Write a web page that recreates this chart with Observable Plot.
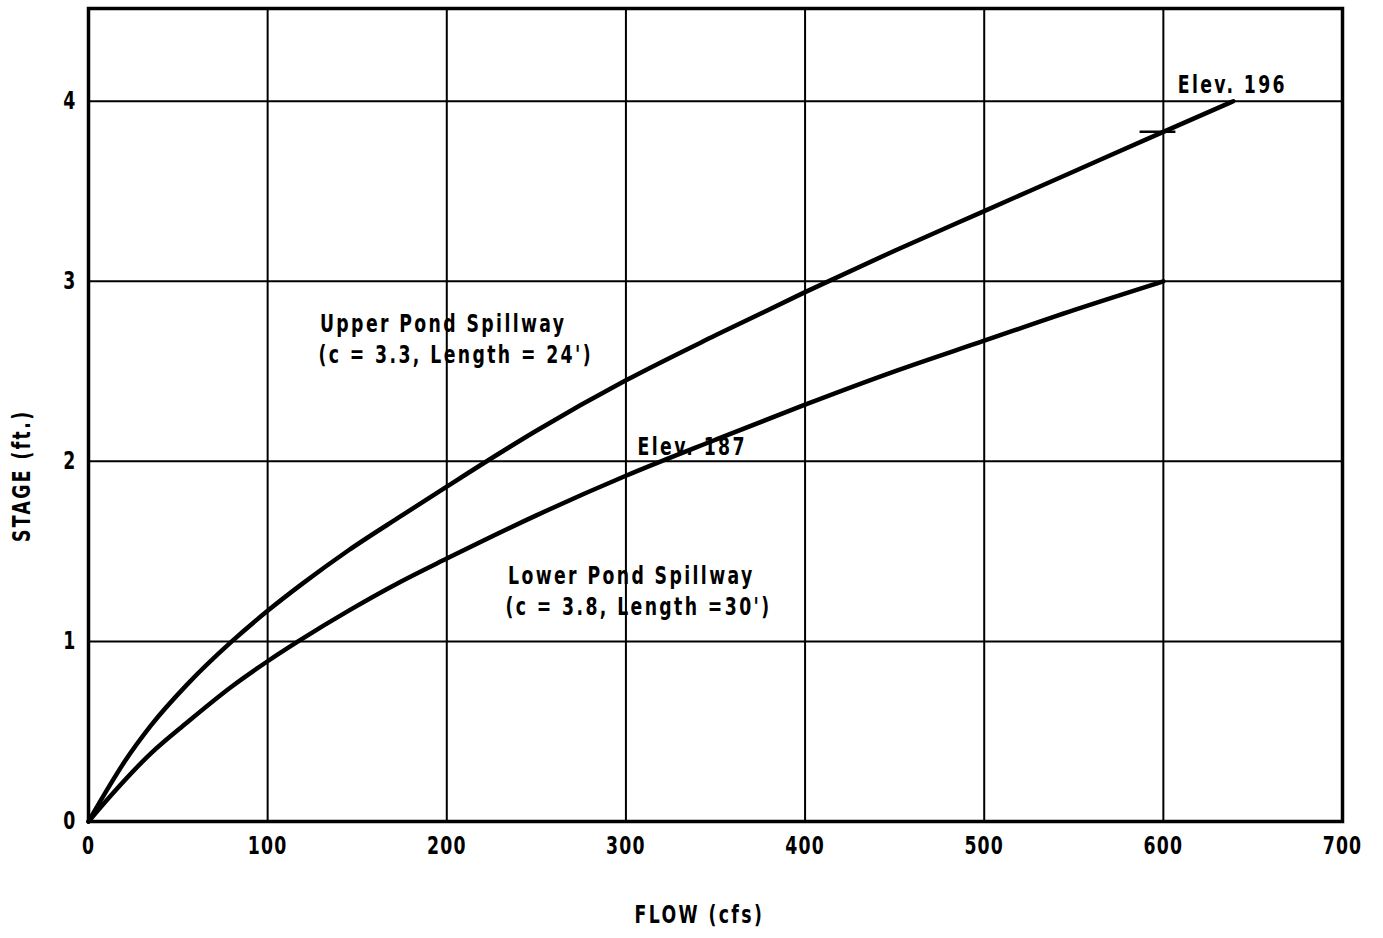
<!DOCTYPE html>
<html>
<head>
<meta charset="utf-8">
<script src="https://cdn.jsdelivr.net/npm/d3@7"></script>
<script src="https://cdn.jsdelivr.net/npm/@observablehq/plot@0.6"></script>
<style>
  html, body { margin: 0; padding: 0; background: #fff; }
  svg text { letter-spacing: 3px; }
  svg g[aria-label$="tick label"] text { letter-spacing: 1.5px; }
</style>
</head>
<body>
<div id="chart"></div>
<script>
// Curves: flow (cfs) and stage (ft)
const upperFlow  = [0, 10, 20, 35, 55, 80, 100, 120, 145, 175, 200, 250, 300, 350, 400, 450, 500, 550, 600, 639];
const upperStage = [0, 0.17, 0.33, 0.535, 0.76, 1.00, 1.17, 1.325, 1.505, 1.70, 1.86, 2.17, 2.45, 2.70, 2.94, 3.17, 3.39, 3.61, 3.83, 4.0];
const lowerFlow  = [0, 13, 35, 55, 80, 100, 117, 146, 174, 200, 250, 300, 350, 400, 450, 500, 550, 600];
const lowerStage = [0, 0.15, 0.38, 0.55, 0.75, 0.89, 1.00, 1.175, 1.33, 1.46, 1.70, 1.92, 2.12, 2.315, 2.50, 2.67, 2.84, 3.0];

const xTicks = [0, 100, 200, 300, 400, 500, 600, 700];
const yTicks = [0, 1, 2, 3, 4];
const xGrid = [100, 200, 300, 400, 500, 600];
const yGrid = [1, 2, 3, 4];

// Centred annotations: text, flow, stage
const noteText  = ["Upper Pond Spillway", "(c = 3.3, Length = 24')", "Lower Pond Spillway", "(c = 3.8, Length =30')"];
const noteFlow  = [198, 205, 303, 307];
const noteStage = [2.76, 2.59, 1.36, 1.19];

// Left-aligned elevation labels
const elevText  = ["Elev. 187", "Elev. 196"];
const elevFlow  = [306.5, 608];
const elevStage = [2.08, 4.09];

// Axis titles: text, flow, stage, rotation
const titleText  = ["FLOW (cfs)", "STAGE (ft.)"];
const titleFlow  = [341, -37];
const titleStage = [-0.52, 1.92];
const titleRot   = [0, -90];

// Small tick at the 600 cfs crossing of the upper curve
const tickMarkX1 = [587], tickMarkX2 = [607], tickMarkY = [3.83];

const upper = upperFlow.map((x, i) => ({x, y: upperStage[i]}));
const lower = lowerFlow.map((x, i) => ({x, y: lowerStage[i]}));
const notes = noteText.map((t, i) => ({t, x: noteFlow[i], y: noteStage[i]}));
const elevs = elevText.map((t, i) => ({t, x: elevFlow[i], y: elevStage[i]}));
const titles = titleText.map((t, i) => ({t, x: titleFlow[i], y: titleStage[i], r: titleRot[i]}));
const tickMark = tickMarkY.map((y, i) => ({y, x1: tickMarkX1[i], x2: tickMarkX2[i]}));

const font = "'DejaVu Sans Condensed', 'DejaVu Sans', sans-serif";

const chart = Plot.plot({
  width: 1383,
  height: 938,
  marginLeft: 88,
  marginRight: 41,
  marginTop: 8,
  marginBottom: 117,
  style: {fontFamily: font, fontWeight: "bold", fontSize: "24px", color: "#000", background: "#fff", overflow: "visible"},
  x: {domain: [0, 700]},
  y: {domain: [0, 4.515]},
  marks: [
    Plot.ruleX(xGrid, {stroke: "#000", strokeWidth: 2}),
    Plot.ruleY(yGrid, {stroke: "#000", strokeWidth: 2}),
    Plot.frame({stroke: "#000", strokeWidth: 3.5}),
    Plot.line(upper, {x: "x", y: "y", curve: "monotone-x", stroke: "#000", strokeWidth: 4.5}),
    Plot.line(lower, {x: "x", y: "y", curve: "monotone-x", stroke: "#000", strokeWidth: 4.5}),
    Plot.ruleY(tickMark, {y: "y", x1: "x1", x2: "x2", stroke: "#000", strokeWidth: 2.5}),
    Plot.axisX({ticks: xTicks, tickFormat: "d", tickSize: 0, tickPadding: 15, label: null, fontSize: 24, fontFamily: font, fontWeight: "bold"}),
    Plot.axisY({ticks: yTicks, tickFormat: "d", tickSize: 0, tickPadding: 12, label: null, fontSize: 24, fontFamily: font, fontWeight: "bold"}),
    Plot.text(notes, {x: "x", y: "y", text: "t", textAnchor: "middle", fontSize: 24, fill: "#000"}),
    Plot.text(elevs, {x: "x", y: "y", text: "t", textAnchor: "start", fontSize: 24, fill: "#000"}),
    Plot.text(titles, {x: "x", y: "y", text: "t", rotate: "r", fontSize: 24, fill: "#000", clip: false})
  ]
});

// Narrow the glyphs (the reference lettering is tall and condensed)
chart.querySelectorAll("text").forEach(t => {
  const tr = t.getAttribute("transform");
  if (tr) {
    t.setAttribute("transform", tr + " scale(0.8,1)");
  } else {
    const x = +(t.getAttribute("x") || 0), y = +(t.getAttribute("y") || 0);
    t.setAttribute("x", 0); t.setAttribute("y", 0);
    t.setAttribute("transform", `translate(${x},${y}) scale(0.8,1)`);
  }
});
document.getElementById("chart").appendChild(chart);
</script>
</body>
</html>
